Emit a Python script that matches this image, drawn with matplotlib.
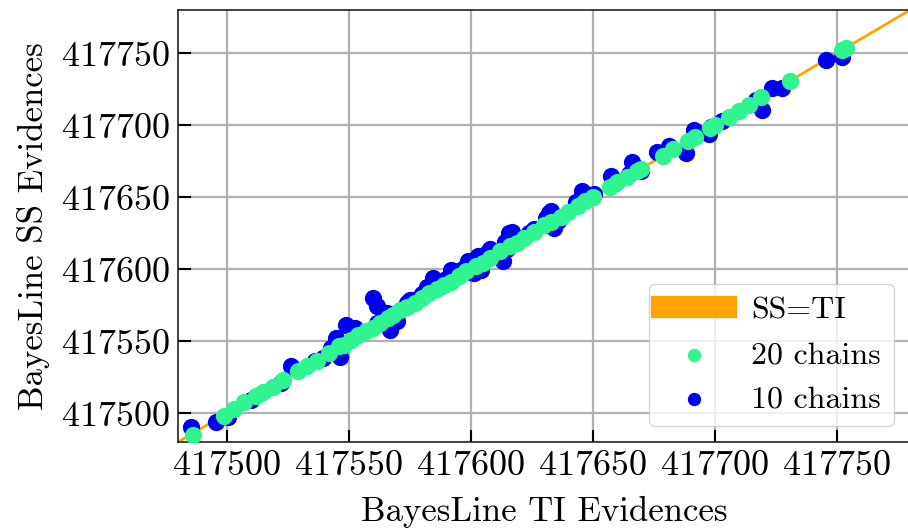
import matplotlib
matplotlib.use("Agg")
import matplotlib.pyplot as plt
from matplotlib.ticker import MultipleLocator

plt.rcParams['font.family'] = 'cmr10'
plt.rcParams['axes.formatter.use_mathtext'] = True
plt.rcParams['mathtext.fontset'] = 'cm'

# evidences from the 20-chain runs
ti_20 = [417486.0, 417499.0, 417503.0, 417507.0, 417512.0, 417515.0, 417519.0, 417523.0,
         417529.0, 417533.0, 417537.0, 417542.0, 417546.0, 417548.0, 417551.0, 417554.0,
         417557.0, 417560.0, 417563.0, 417566.0, 417568.0, 417571.0, 417574.0, 417577.0,
         417580.0, 417583.0, 417586.0, 417589.0, 417592.0, 417595.0, 417598.0, 417602.0,
         417605.0, 417608.0, 417612.0, 417616.0, 417619.0, 417622.0, 417626.0, 417630.0,
         417633.0, 417637.0, 417640.0, 417644.0, 417647.0, 417650.0, 417657.0, 417660.0,
         417664.0, 417668.0, 417670.0, 417679.0, 417683.0, 417689.0, 417692.0, 417698.0,
         417700.0, 417706.0, 417710.0, 417714.0, 417719.0, 417731.0, 417752.0, 417754.0]
ss_20 = [417485.0, 417498.0, 417503.0, 417507.5, 417512.0, 417515.0, 417518.5, 417523.0,
         417529.5, 417533.0, 417536.5, 417542.0, 417546.5, 417547.5, 417551.0, 417554.5,
         417557.0, 417559.5, 417563.0, 417566.5, 417568.0, 417571.5, 417574.0, 417576.5,
         417580.0, 417583.5, 417586.0, 417589.0, 417591.5, 417595.0, 417598.5, 417602.0,
         417604.5, 417608.0, 417612.5, 417616.0, 417618.5, 417622.0, 417626.0, 417630.5,
         417633.0, 417636.5, 417640.0, 417644.0, 417647.5, 417650.0, 417657.0, 417660.5,
         417664.0, 417668.0, 417669.5, 417679.0, 417683.5, 417689.0, 417692.0, 417698.0,
         417700.5, 417706.0, 417710.0, 417714.0, 417719.5, 417731.0, 417752.5, 417754.0]

# evidences from the 10-chain runs
ti_10 = [417485.4, 417495.7, 417500.5, 417510.1, 417522.4, 417526.5, 417536.1, 417539.5,
         417542.9, 417544.9, 417546.3, 417549.0, 417552.5, 417560.0, 417561.4, 417561.4,
         417565.5, 417566.8, 417569.6, 417573.7, 417575.0, 417577.8, 417580.0, 417582.0,
         417584.6, 417588.0, 417590.0, 417591.8, 417592.8, 417595.0, 417597.3, 417599.0,
         417600.3, 417601.4, 417603.0, 417604.1, 417605.1, 417606.8, 417608.0, 417610.6,
         417613.3, 417614.2, 417615.0, 417615.6, 417616.1, 417617.1, 417623.8, 417625.6,
         417626.0, 417630.7, 417632.0, 417632.8, 417634.0, 417635.6, 417643.0, 417645.7,
         417647.2, 417650.5, 417657.6, 417659.0, 417664.9, 417666.3, 417669.7, 417676.5,
         417681.2, 417688.1, 417691.5, 417697.6, 417698.3, 417703.1, 417716.8, 417719.5,
         417723.6, 417727.7, 417745.5, 417752.3]
ss_10 = [417490.4, 417494.2, 417497.5, 417509.1, 417520.9, 417532.5, 417536.1, 417538.2,
         417545.2, 417552.2, 417539.3, 417561.5, 417559.0, 417580.0, 417574.4, 417562.9,
         417569.5, 417557.8, 417564.1, 417576.7, 417579.0, 417579.3, 417583.0, 417588.0,
         417594.1, 417588.5, 417593.0, 417599.8, 417598.8, 417599.0, 417600.8, 417606.0,
         417597.8, 417597.4, 417609.0, 417599.7, 417609.4, 417611.3, 417614.0, 417610.6,
         417605.8, 417619.2, 417614.0, 417625.2, 417624.6, 417626.1, 417625.2, 417625.6,
         417628.0, 417635.7, 417639.0, 417640.8, 417629.0, 417633.6, 417647.0, 417654.3,
         417652.2, 417652.0, 417664.6, 417660.0, 417665.9, 417674.3, 417668.3, 417681.2,
         417685.8, 417681.1, 417696.5, 417694.0, 417698.7, 417703.1, 417717.3, 417710.5,
         417725.6, 417726.2, 417745.5, 417747.7]

lims = [417480, 417780]

fig = plt.figure(figsize=(9.08, 5.32), dpi=100)
ax = fig.add_axes([0.196, 0.169, 0.806, 0.812])

ax.plot(lims, lims, color='orange', lw=2, zorder=1, label='SS=TI')
ax.scatter(ti_10, ss_10, s=130, color='#0000f0', zorder=2, label='10 chains')
ax.scatter(ti_20, ss_20, s=130, color='#2ef590', zorder=3, label='20 chains')

ax.set_xlim(lims)
ax.set_ylim(lims)
ax.xaxis.set_major_locator(MultipleLocator(50))
ax.yaxis.set_major_locator(MultipleLocator(50))
ax.ticklabel_format(useOffset=False, style='plain')
ax.grid(True, color='#b0b0b0', lw=1.6)
ax.set_axisbelow(True)
ax.tick_params(direction='in', length=9, width=1.5, labelsize=26, pad=6)
for sp in ax.spines.values():
    sp.set_linewidth(1.2)
    sp.set_color('#222222')

ax.set_xlabel('BayesLine TI Evidences', fontsize=25, labelpad=10)
ax.set_ylabel('BayesLine SS Evidences', fontsize=25, labelpad=8)

handles, labels = ax.get_legend_handles_labels()
order = [0, 2, 1]
leg = ax.legend([handles[i] for i in order], [labels[i] for i in order],
                loc='lower right', fontsize=23, markerscale=0.75, framealpha=0.8)
leg.legend_handles[0].set_linewidth(16)

fig.savefig('out.png', dpi=100)
